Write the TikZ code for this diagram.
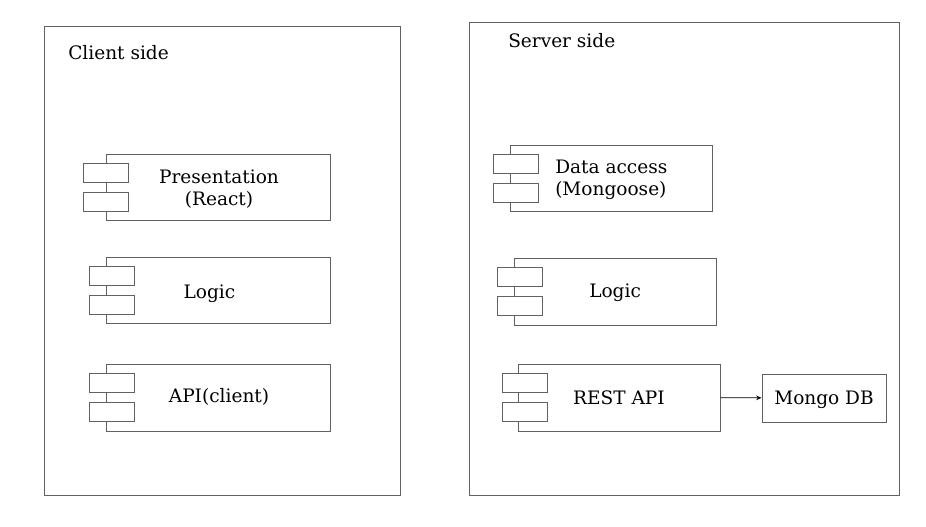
\documentclass[tikz,border=0pt]{standalone}
\usepackage{fontspec}
\setmainfont{DejaVu Serif}
\usetikzlibrary{positioning,arrows.meta}

\begin{document}
\begin{tikzpicture}[
    x=0.75pt, y=-0.75pt,
    every node/.style={inner sep=0pt, font=\fontsize{13.9}{16.8}\selectfont},
    side/.style={rectangle, draw=black!62, line width=0.75pt},
    comp/.style={rectangle, draw=black!62, line width=0.75pt, minimum width=#1, minimum height=49.5pt},
    port/.style={rectangle, draw=black!62, fill=white, line width=0.75pt, minimum width=33.75pt, minimum height=14.25pt},
    label/.style={align=center, anchor=base},
    arrow/.style={-{Stealth[length=4pt, width=3.5pt]}, line width=0.6pt}
]
    \useasboundingbox (0,0) rectangle (926,526);

    % Client side
    \node[side, minimum width=267pt, minimum height=351.75pt] (client) at (222,260.5) {};
    \node[anchor=base west] (clienttitle) at (68,59) {Client side};

    \node[comp=168pt] (present) at (218,187) {};
    \node[port] (present1) at (105.5,172.5) {};
    \node[port] (present2) at (105.5,201.5) {};
    \node[label] (presenttxt) at (219,205.7) {Presentation\\(React)};

    \node[comp=168pt] (clogic) at (218,290) {};
    \node[port] (clogic1) at (112,275.5) {};
    \node[port] (clogic2) at (112,304.5) {};
    \node[anchor=base west] (clogictxt) at (183.3,298.3) {Logic};

    \node[comp=168pt, minimum height=50.25pt] (capi) at (218,397.5) {};
    \node[port] (capi1) at (112,382.5) {};
    \node[port] (capi2) at (112,411.5) {};
    \node[label] (capitxt) at (219,402.7) {API(client)};

    % Server side
    \node[side, minimum width=322.5pt, minimum height=354.75pt] (server) at (684,258.5) {};
    \node[anchor=base west] (servertitle) at (508,47) {Server side};

    \node[comp=151.5pt] (data) at (611,178) {};
    \node[port] (data1) at (515.5,163.5) {};
    \node[port] (data2) at (515.5,193) {};
    \node[align=left, anchor=base west] (datatxt) at (555,195.7) {Data access\\(Mongoose)};

    \node[comp=151.5pt, minimum height=50.25pt] (slogic) at (615,291.5) {};
    \node[port] (slogic1) at (519.5,276.5) {};
    \node[port] (slogic2) at (519.5,306) {};
    \node[anchor=base west] (slogictxt) at (589,297.7) {Logic};

    \node[comp=151.5pt, minimum height=50.25pt] (rest) at (619,397.5) {};
    \node[port] (rest1) at (524.5,383) {};
    \node[port] (rest2) at (524.5,412) {};
    \node[label] (resttxt) at (619,404) {REST API};

    \node[side, minimum width=93pt, minimum height=36pt] (mongo) at (824,398) {};
    \node[label] (mongotxt) at (824,404) {Mongo DB};

    % Arrow
    \draw[arrow] (rest) -- (mongo);

\end{tikzpicture}
\end{document}
